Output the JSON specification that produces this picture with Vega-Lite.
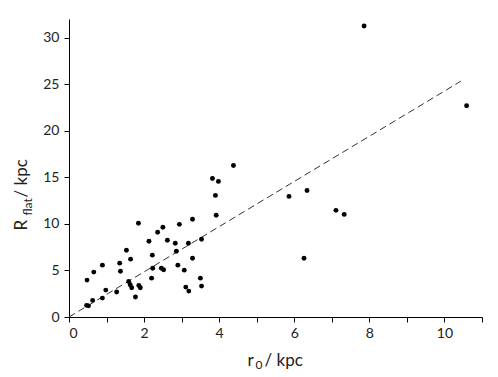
{
  "$schema": "https://vega.github.io/schema/vega-lite/v6.json",
  "width": 413,
  "height": 298,
  "autosize": {"type": "none"},
  "padding": {"left": 69, "top": 19, "right": 16, "bottom": 60},
  "background": "white",
  "config": {
    "view": {"stroke": null},
    "font": "Lato",
    "axis": {"grid": false, "domainColor": "#000", "tickColor": "#000", "labelColor": "#222", "titleColor": "#222", "labelFont": "Lato", "titleFont": "Lato", "labelFontSize": 14, "titleFontSize": 17, "titleFontWeight": "normal", "tickSize": 5, "domainWidth": 1, "tickWidth": 1}
  },
  "datasets": {
    "pts": [
      {"r0": 0.48, "R": 3.96}, {"r0": 0.47, "R": 1.25}, {"r0": 0.52, "R": 1.2},
      {"r0": 0.66, "R": 4.82}, {"r0": 0.63, "R": 1.78}, {"r0": 0.89, "R": 5.57},
      {"r0": 0.89, "R": 2.03}, {"r0": 0.98, "R": 2.89}, {"r0": 1.27, "R": 2.68},
      {"r0": 1.35, "R": 5.78}, {"r0": 1.37, "R": 4.92}, {"r0": 1.53, "R": 7.17},
      {"r0": 1.59, "R": 3.82}, {"r0": 1.63, "R": 3.46}, {"r0": 1.64, "R": 6.21},
      {"r0": 1.67, "R": 3.14}, {"r0": 1.77, "R": 2.14}, {"r0": 1.85, "R": 10.06},
      {"r0": 1.86, "R": 3.39}, {"r0": 1.9, "R": 3.14}, {"r0": 2.13, "R": 8.13},
      {"r0": 2.2, "R": 4.17}, {"r0": 2.22, "R": 6.64}, {"r0": 2.23, "R": 5.24},
      {"r0": 2.36, "R": 9.1}, {"r0": 2.46, "R": 5.24}, {"r0": 2.5, "R": 9.63},
      {"r0": 2.52, "R": 5.07}, {"r0": 2.62, "R": 8.24}, {"r0": 2.83, "R": 7.92},
      {"r0": 2.86, "R": 7.06}, {"r0": 2.9, "R": 5.57}, {"r0": 2.94, "R": 9.95},
      {"r0": 3.07, "R": 5.03}, {"r0": 3.11, "R": 3.21}, {"r0": 3.18, "R": 7.92},
      {"r0": 3.19, "R": 2.78}, {"r0": 3.29, "R": 10.49}, {"r0": 3.29, "R": 6.31},
      {"r0": 3.5, "R": 4.17}, {"r0": 3.53, "R": 8.35}, {"r0": 3.53, "R": 3.32},
      {"r0": 3.82, "R": 14.88}, {"r0": 3.9, "R": 13.06}, {"r0": 3.92, "R": 10.92},
      {"r0": 3.98, "R": 14.56}, {"r0": 4.38, "R": 16.27}, {"r0": 5.86, "R": 12.95},
      {"r0": 6.26, "R": 6.31}, {"r0": 6.34, "R": 13.59}, {"r0": 7.11, "R": 11.45},
      {"r0": 7.33, "R": 11.02}, {"r0": 7.86, "R": 31.25}, {"r0": 10.59, "R": 22.69}
    ],
    "fit": [
      {"r0": 0, "R": 0}, {"r0": 10.44, "R": 25.33}
    ]
  },
  "resolve": {"axis": {"x": "independent", "y": "independent"}},
  "layer": [
    {
      "data": {"name": "fit"},
      "mark": {"type": "line", "color": "#333", "strokeWidth": 1, "strokeDash": [7, 4]},
      "encoding": {
        "x": {"field": "r0", "type": "quantitative", "scale": {"domain": [0, 11], "nice": false},
          "axis": {"orient": "bottom", "title": "0", "domain": false, "ticks": false, "labels": false, "titleFontSize": 12, "titleX": 186, "titleY": 51, "titleAlign": "left", "titleBaseline": "alphabetic", "titleAnchor": null}},
        "y": {"field": "R", "type": "quantitative", "scale": {"domain": [0, 32], "nice": false},
          "axis": {"orient": "left", "title": "flat", "domain": false, "ticks": false, "labels": false, "titleFontSize": 12, "titleAngle": -90, "titleX": -42, "titleY": 196, "titleAlign": "left", "titleBaseline": "middle", "titleAnchor": null}}
      }
    },
    {
      "data": {"name": "pts"},
      "mark": {"type": "point", "filled": true, "color": "#000", "opacity": 1, "size": 24},
      "encoding": {
        "x": {"field": "r0", "type": "quantitative",
          "scale": {"domain": [0, 11], "nice": false, "zero": true},
          "axis": {"orient": "bottom", "title": "r", "values": [0,1,2,3,4,5,6,7,8,9,10,11], "labelExpr": "datum.value % 2 == 0 ? datum.label : ''", "labelPadding": 4, "titleX": 178, "titleY": 48, "titleAlign": "left", "titleBaseline": "alphabetic", "titleAnchor": null}},
        "y": {"field": "R", "type": "quantitative",
          "scale": {"domain": [0, 32], "nice": false},
          "axis": {"orient": "left", "title": "R", "values": [0,5,10,15,20,25,30], "labelPadding": 5, "titleAngle": -90, "titleX": -48, "titleY": 211, "titleAlign": "left", "titleBaseline": "middle", "titleAnchor": null}}
      }
    },
    {
      "data": {"name": "fit"},
      "mark": {"type": "line", "strokeOpacity": 0},
      "encoding": {
        "x": {"field": "r0", "type": "quantitative", "scale": {"domain": [0, 11], "nice": false},
          "axis": {"orient": "bottom", "title": "/ kpc", "domain": false, "ticks": false, "labels": false, "titleX": 195, "titleY": 48, "titleAlign": "left", "titleBaseline": "alphabetic", "titleAnchor": null}},
        "y": {"field": "R", "type": "quantitative", "scale": {"domain": [0, 32], "nice": false},
          "axis": {"orient": "left", "title": "/ kpc", "domain": false, "ticks": false, "labels": false, "titleAngle": -90, "titleX": -48, "titleY": 178, "titleAlign": "left", "titleBaseline": "middle", "titleAnchor": null}}
      }
    }
  ]
}
